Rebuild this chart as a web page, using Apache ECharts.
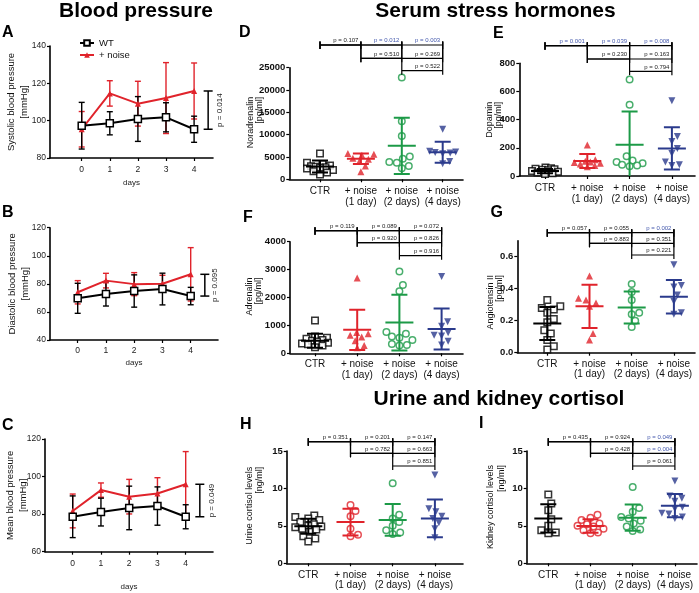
<!DOCTYPE html>
<html><head><meta charset="utf-8">
<script src="https://cdn.jsdelivr.net/npm/echarts@6/dist/echarts.min.js"></script>
<style>html,body{margin:0;padding:0;background:#fff}#c{width:699px;height:593px}</style>
</head><body><div id="c"></div>
<script>
// ================= DATA =================
const days = [0, 1, 2, 3, 4];
// A: systolic
const sysWtMean = [97.3, 98.6, 100.9, 101.8, 95.4];
const sysWtSd   = [12.5, 6.2, 12.0, 7.8, 7.0];
const sysNzMean = [95.4, 114.6, 109.1, 112.1, 115.9];
const sysNzSd   = [9.5, 6.8, 12.0, 19.0, 15.0];
const sysP = '0.014';
// B: diastolic
const diaWtMean = [69.7, 72.8, 74.9, 76.3, 71.3];
const diaWtSd   = [10.7, 8.6, 11.5, 11.3, 6.2];
const diaNzMean = [74.0, 82.3, 79.8, 80.1, 86.8];
const diaNzSd   = [8.3, 5.2, 8.2, 6.0, 19.0];
const diaP = '0.095';
// C: mean
const meanWtMean = [78.6, 81.1, 83.3, 84.3, 78.6];
const meanWtSd   = [11.1, 7.4, 11.6, 10.2, 6.4];
const meanNzMean = [81.7, 92.8, 89.3, 91.0, 95.9];
const meanNzSd   = [9.0, 3.8, 9.2, 8.4, 17.4];
const meanP = '0.049';

const groupLabels = ['CTR', '+ noise\n(1 day)', '+ noise\n(2 days)', '+ noise\n(4 days)'];
// comparisons order: CTR-1d, CTR-2d, CTR-4d, 1d-2d, 1d-4d, 2d-4d
// D: Noradrenalin
const norCtr = [5800, 3700, 3400, 3100, 2900, 2800, 2700, 2600, 2400, 2100, 1800, 1500, 1100];
const norD1 = [5800, 5600, 5400, 4700, 4500, 4000, 3000, 1700];
const norD2 = [22800, 13000, 9700, 5100, 4600, 3900, 3700, 3000, 2500];
const norD4 = [11200, 6300, 6100, 6000, 5900, 5700, 4000, 3500];
const norMean = [2850, 4600, 7500, 6050];
const norSd = [1350, 1200, 6300, 2350];
const norP = ['0.107', '0.012', '0.003', '0.510', '0.269', '0.522'];
// E: Dopamin
const dopCtr = [60, 55, 52, 48, 45, 40, 35, 30, 25, 20, 15];
const dopD1 = [220, 115, 105, 100, 95, 90, 85, 75, 65];
const dopD2 = [685, 505, 140, 110, 100, 90, 80, 75, 70];
const dopD4 = [535, 280, 245, 195, 160, 100, 80, 75];
const dopMean = [35, 106, 222, 196];
const dopSd = [15, 50, 236, 150];
const dopP = ['0.001', '0.039', '0.008', '0.230', '0.163', '0.794'];
// F: Adrenalin
const adrCtr = [1180, 600, 560, 520, 480, 450, 420, 380, 350, 320, 280, 220];
const adrD1 = [2700, 750, 700, 650, 580, 450, 280, 200];
const adrD2 = [2930, 2450, 2220, 760, 700, 600, 560, 480, 330, 300, 280];
const adrD4 = [2750, 1130, 970, 740, 650, 620, 430, 300];
const adrMean = [450, 840, 1100, 875];
const adrSd = [250, 720, 1000, 735];
const adrP = ['0.119', '0.089', '0.072', '0.920', '0.826', '0.916'];
// G: Angiotensin II
const angCtr = [0.33, 0.29, 0.28, 0.27, 0.25, 0.21, 0.19, 0.14, 0.12, 0.08, 0.04, 0.02];
const angD1 = [0.48, 0.34, 0.33, 0.31, 0.29, 0.12, 0.08];
const angD2 = [0.43, 0.38, 0.33, 0.25, 0.24, 0.20, 0.16];
const angD4 = [0.55, 0.42, 0.41, 0.36, 0.32, 0.25, 0.24];
const angMean = [0.183, 0.29, 0.283, 0.35];
const angSd = [0.103, 0.135, 0.1, 0.105];
const angP = ['0.057', '0.055', '0.002', '0.883', '0.351', '0.221'];
// H: Urine cortisol
const urCtr = [6.4, 6.2, 6.0, 5.8, 5.5, 5.2, 5.0, 4.9, 4.8, 4.6, 4.5, 4.2, 3.6, 3.3, 2.9];
const urD1 = [7.8, 7.0, 6.3, 4.6, 3.8, 3.6];
const urD2 = [10.7, 6.5, 6.0, 5.5, 5.0, 4.4, 4.1, 3.9];
const urD4 = [11.8, 7.3, 6.9, 6.3, 6.0, 5.4, 4.6, 3.4];
const urMean = [4.95, 5.5, 5.8, 6.0];
const urSd = [1.0, 1.8, 2.13, 2.53];
const urP = ['0.351', '0.201', '0.147', '0.782', '0.663', '0.851'];
// I: Kidney cortisol
const kiCtr = [9.2, 8.0, 7.1, 5.9, 5.0, 4.4, 4.1, 4.0];
const kiD1 = [6.5, 6.1, 5.8, 5.3, 5.2, 5.0, 4.9, 4.6, 4.4, 4.1, 4.0];
const kiD2 = [10.2, 7.4, 6.9, 6.2, 6.0, 5.7, 5.3, 4.9, 4.5, 4.3];
const kiD4 = [11.0, 9.0, 8.7, 8.3, 7.5, 7.3, 6.7, 6.6, 6.2, 6.0];
const kiMean = [6.0, 4.98, 6.1, 7.7];
const kiSd = [1.9, 0.9, 1.75, 1.55];
const kiP = ['0.435', '0.924', '0.049', '0.428', '0.004', '0.061'];
const comparisons = [[0, 1], [0, 2], [0, 3], [1, 2], [1, 3], [2, 3]];

// ================= LAYOUT / STYLE =================
const FONT = '"Liberation Sans", Arial, Helvetica, sans-serif';
const RED = '#e0232b', GREEN = '#1c9a47', BLUE = '#2a3a8c', PBLUE = '#4459ad', BLACK = '#000';
const groupColors = [BLACK, RED, GREEN, BLUE];

const linePanels = [
  {letter: 'A', lx: 8, ly: 33.5, left: 50, top: 46, width: 163, height: 112, x0: 81.7, sp: 28.1, ymin: 80, ymax: 140,
   name: 'Systolic blood pressure\n[mmHg]', nameGap: 19, lblMargin: 7, daysGap: 21,
   wtM: sysWtMean, wtS: sysWtSd, nzM: sysNzMean, nzS: sysNzSd, p: sysP, pDx: 12},
  {letter: 'B', lx: 8, ly: 213.5, left: 50, top: 227.7, width: 168, height: 112.3, x0: 77.7, sp: 28.25, ymin: 40, ymax: 120,
   name: 'Diastolic blood pressure\n[mmHg]', nameGap: 18, lblMargin: 6, daysGap: 19,
   wtM: diaWtMean, wtS: diaWtSd, nzM: diaNzMean, nzS: diaNzSd, p: diaP, pDx: 10},
  {letter: 'C', lx: 8, ly: 426.5, left: 45, top: 439, width: 168, height: 112.7, x0: 72.7, sp: 28.25, ymin: 60, ymax: 120,
   name: 'Mean blood pressure\n[mmHg]', nameGap: 15, lblMargin: 7, daysGap: 31,
   wtM: meanWtMean, wtS: meanWtSd, nzM: meanNzMean, nzS: meanNzSd, p: meanP, pDx: 11.5}
];

const dotPanels = [
  {letter: 'D', lx: 245, ly: 34, left: 289.3, top: 67.7, width: 173.7, height: 111.6, x0: 320, sp: 40.9, ymax: 25000,
   ticks: [0, 5000, 10000, 15000, 20000, 25000], dec: 0, rows: [45, 58.3, 70.7], name: 'Noradrenalin\n[pg/ml]', nx: 254.8, ny: 96.7, nameLH: 9.5,
   lblMargin: 7, d1Hollow: false, groups: [norCtr, norD1, norD2, norD4], mean: norMean, sd: norSd, p: norP},
  {letter: 'E', lx: 499, ly: 35, left: 519.3, top: 63.3, width: 175.7, height: 112.7, x0: 545, sp: 42.3, ymax: 800,
   ticks: [0, 200, 400, 600, 800], dec: 0, rows: [45.7, 59, 71.3], name: 'Dopamin\n[pg/ml]', nx: 494.5, ny: 101.7, nameLH: 9,
   lblMargin: 7, d1Hollow: false, groups: [dopCtr, dopD1, dopD2, dopD4], mean: dopMean, sd: dopSd, p: dopP},
  {letter: 'F', lx: 249, ly: 219, left: 290, top: 241.7, width: 173, height: 111.6, x0: 315, sp: 42.2, ymax: 4000,
   ticks: [0, 1000, 2000, 3000, 4000], dec: 0, rows: [230.7, 242.7, 255.7], name: 'Adrenalin\n[pg/ml]', nx: 254.5, ny: 277.5, nameLH: 9,
   lblMargin: 6, d1Hollow: false, groups: [adrCtr, adrD1, adrD2, adrD4], mean: adrMean, sd: adrSd, p: adrP},
  {letter: 'G', lx: 496.5, ly: 214, left: 517.3, top: 240.7, width: 177.7, height: 112, x0: 547.3, sp: 42.2, ymax: 0.7,
   ticks: [0, 0.2, 0.4, 0.6], dec: 1, rows: [232.7, 243.3, 255], name: 'Angiotensin II\n[pg/ml]', nx: 494.7, ny: 275, nameLH: 9.3,
   lblMargin: 6, d1Hollow: false, groups: [angCtr, angD1, angD2, angD4], mean: angMean, sd: angSd, p: angP},
  {letter: 'H', lx: 246, ly: 425.5, left: 286.7, top: 451, width: 176.3, height: 112.3, x0: 308.3, sp: 42.2, ymax: 15,
   ticks: [0, 5, 10, 15], dec: 0, rows: [441.7, 453.3, 466], name: 'Urine cortisol levels\n[ng/ml]', nx: 255, ny: 466.7, nameLH: 10,
   lblMargin: 6.5, d1Hollow: true, groups: [urCtr, urD1, urD2, urD4], mean: urMean, sd: urSd, p: urP},
  {letter: 'I', lx: 485, ly: 425, left: 526.7, top: 451, width: 170.3, height: 112.3, x0: 548.3, sp: 42.2, ymax: 15,
   ticks: [0, 5, 10, 15], dec: 0, rows: [441.7, 453.3, 466], name: 'Kidney cortisol levels\n[ng/ml]', nx: 496.2, ny: 465, nameLH: 11,
   lblMargin: 6.5, d1Hollow: true, groups: [kiCtr, kiD1, kiD2, kiD4], mean: kiMean, sd: kiSd, p: kiP}
];

// ================= BUILD =================
const chart = echarts.init(document.getElementById('c'), null, {renderer: 'canvas', width: 699, height: 593});
const grids = [], xAxes = [], yAxes = [], series = [];
const graphics = [];

function ln(x1, y1, x2, y2, color, w) {
  return {type: 'line', shape: {x1, y1, x2, y2}, style: {stroke: color, lineWidth: w}};
}

function errRenderer(color, cap, w) {
  return function (params, api) {
    const x = api.value(0), m = api.value(1), s = api.value(2);
    const t = api.coord([x, m + s]), b = api.coord([x, m - s]);
    return {type: 'group', children: [
      ln(t[0], t[1], b[0], b[1], color, w),
      ln(t[0] - cap, t[1], t[0] + cap, t[1], color, w),
      ln(b[0] - cap, b[1], b[0] + cap, b[1], color, w)
    ]};
  };
}

let gi = 0;
linePanels.forEach(L => {
  const idx = gi++;
  grids.push({left: L.left, top: L.top, width: L.width, height: L.height, containLabel: false, outerBoundsMode: 'none'});
  xAxes.push({gridIndex: idx, type: 'value', min: (L.left - L.x0) / L.sp, max: (L.left + L.width - L.x0) / L.sp,
    axisLine: {onZero: false, lineStyle: {color: BLACK, width: 1.6}},
    axisTick: {customValues: days, length: 3, lineStyle: {color: BLACK, width: 1.2}},
    axisLabel: {customValues: days, fontSize: 8.5, color: '#222', margin: L.lblMargin, fontFamily: FONT},
    splitLine: {show: false}, nameMoveOverlap: false,
    name: 'days', nameLocation: 'middle', nameGap: L.daysGap, nameTextStyle: {fontSize: 8, color: '#222', fontFamily: FONT}});
  yAxes.push({gridIndex: idx, type: 'value', min: L.ymin, max: L.ymax, interval: 20,
    axisLine: {show: true, onZero: false, lineStyle: {color: BLACK, width: 1.6}},
    axisTick: {show: true, length: 3, lineStyle: {color: BLACK, width: 1.2}},
    axisLabel: {fontSize: 8.5, color: '#222', margin: 4, fontFamily: FONT},
    splitLine: {show: false}, nameMoveOverlap: false,
    name: L.name, nameLocation: 'middle', nameRotate: 90, nameGap: L.nameGap,
    nameTextStyle: {fontSize: 9.5, lineHeight: 13, color: '#111', fontFamily: FONT, align: 'center'}});
  series.push({type: 'custom', xAxisIndex: idx, yAxisIndex: idx, z: 2, silent: true,
    data: days.map((d, k) => [d, L.nzM[k], L.nzS[k]]), encode: {x: 0, y: 1},
    renderItem: errRenderer(RED, 3, 1.4)});
  series.push({type: 'custom', xAxisIndex: idx, yAxisIndex: idx, z: 2, silent: true,
    data: days.map((d, k) => [d, L.wtM[k], L.wtS[k]]), encode: {x: 0, y: 1},
    renderItem: errRenderer(BLACK, 3, 1.4)});
  series.push({type: 'line', name: '+ noise', xAxisIndex: idx, yAxisIndex: idx, z: 3,
    data: days.map((d, k) => [d, L.nzM[k]]), symbol: 'triangle', symbolSize: 6,
    lineStyle: {color: RED, width: 2}, itemStyle: {color: RED}, animation: false});
  series.push({type: 'line', name: 'WT', xAxisIndex: idx, yAxisIndex: idx, z: 4,
    data: days.map((d, k) => [d, L.wtM[k]]), symbol: 'rect', symbolSize: 7,
    lineStyle: {color: BLACK, width: 2}, itemStyle: {color: '#fff', borderColor: BLACK, borderWidth: 1.5}, animation: false});
  series.push({type: 'custom', xAxisIndex: idx, yAxisIndex: idx, z: 5, silent: true, clip: false,
    data: [[4.5, L.wtM[4], L.nzM[4]]], encode: {x: 0, y: 1},
    renderItem: function (params, api) {
      const x = api.value(0);
      const a = api.coord([x, api.value(1)]), b = api.coord([x, api.value(2)]);
      return {type: 'group', children: [
        ln(a[0], a[1], b[0], b[1], BLACK, 1.5),
        ln(a[0] - 4.5, a[1], a[0] + 4.5, a[1], BLACK, 1.5),
        ln(b[0] - 4.5, b[1], b[0] + 4.5, b[1], BLACK, 1.5),
        {type: 'text', x: a[0] + L.pDx, y: (a[1] + b[1]) / 2, rotation: Math.PI / 2,
         style: {text: 'p = ' + L.p, fill: '#222', font: '8px ' + FONT, align: 'center', verticalAlign: 'middle'}}
      ]};
    }});
  graphics.push({type: 'text', left: L.lx - 6, top: L.ly - 9, style: {text: L.letter, font: 'bold 16px ' + FONT, fill: BLACK}});
});

// simple beeswarm: horizontal offsets (px) that keep symbols apart, limited to a band
function swarm(vals, pxPerY, diam, maxOff) {
  const order = vals.map((v, i) => i).sort((a, b) => vals[a] - vals[b]);
  const cands = [0];
  for (let k = 1; k <= maxOff * 2; k++) cands.push(k * 0.5, -k * 0.5);
  const placed = [], out = new Array(vals.length);
  for (const i of order) {
    const y = vals[i] * pxPerY;
    let best = null, bestC = 0, bestD = -1;
    for (const c of cands) {
      let d = Infinity;
      for (const p of placed) d = Math.min(d, Math.hypot(p.x - c, p.y - y));
      if (d >= diam) { best = c; break; }
      if (d > bestD + 0.3) { bestD = d; bestC = c; }
    }
    if (best === null) best = bestC;
    placed.push({x: best, y});
    out[i] = best;
  }
  return out;
}

dotPanels.forEach(P => {
  const idx = gi++;
  const xmin = (P.left - P.x0) / P.sp, xmax = (P.left + P.width - P.x0) / P.sp;
  grids.push({left: P.left, top: P.top, width: P.width, height: P.height, containLabel: false, outerBoundsMode: 'none'});
  xAxes.push({gridIndex: idx, type: 'value', min: xmin, max: xmax,
    axisLine: {onZero: false, lineStyle: {color: BLACK, width: 1.6}},
    axisTick: {customValues: [0, 1, 2, 3], length: 3, lineStyle: {color: BLACK, width: 1.2}},
    axisLabel: {customValues: [0, 1, 2, 3], formatter: v => groupLabels[Math.round(v)], fontSize: 10, lineHeight: 10.5,
      color: '#111', margin: P.lblMargin, fontFamily: FONT},
    splitLine: {show: false}});
  yAxes.push({gridIndex: idx, type: 'value', min: 0, max: P.ymax,
    axisLine: {show: true, onZero: false, lineStyle: {color: BLACK, width: 1.6}},
    axisTick: {show: true, customValues: P.ticks, length: 3, lineStyle: {color: BLACK, width: 1.2}},
    axisLabel: {customValues: P.ticks, formatter: v => v.toFixed(P.dec), fontSize: 9.5, fontWeight: 'bold', color: '#111', margin: 4, fontFamily: FONT},
    splitLine: {show: false}});
  // y-axis title (two lines, end-aligned at the top like the original)
  graphics.push({type: 'text', x: P.nx, y: P.ny, rotation: Math.PI / 2,
    style: {text: P.name, font: '9px ' + FONT, lineHeight: P.nameLH, fill: '#111', align: 'right', verticalAlign: 'middle'}});
  const pxPerY = P.height / P.ymax;
  P.groups.forEach((vals, g) => {
    const off = swarm(vals, pxPerY, 7.2, 13);
    const col = groupColors[g];
    let symbol, rot = 0, hollow;
    if (g === 0) { symbol = 'rect'; hollow = true; }
    else if (g === 1) { symbol = P.d1Hollow ? 'circle' : 'triangle'; hollow = P.d1Hollow; }
    else if (g === 2) { symbol = 'circle'; hollow = true; }
    else { symbol = 'triangle'; rot = 180; hollow = false; }
    series.push({type: 'scatter', xAxisIndex: idx, yAxisIndex: idx, z: 3, silent: true, animation: false,
      data: vals.map((v, k) => [g + off[k] / P.sp, v]),
      symbol, symbolRotate: rot, symbolSize: hollow ? 6.5 : 7,
      itemStyle: hollow ? {color: '#fff', borderColor: col, borderWidth: 1.5} : {color: col, borderWidth: 0}});
  });
  series.push({type: 'custom', xAxisIndex: idx, yAxisIndex: idx, z: 4, silent: true, clip: true,
    data: P.mean.map((m, g) => [g, m, P.sd[g], g]), encode: {x: 0, y: 1},
    renderItem: function (params, api) {
      const x = api.value(0), m = api.value(1), s = api.value(2), col = groupColors[api.value(3)];
      const c = api.coord([x, m]), t = api.coord([x, m + s]), b = api.coord([x, m - s]);
      return {type: 'group', children: [
        ln(c[0] - 14, c[1], c[0] + 14, c[1], col, 2),
        ln(t[0], t[1], b[0], b[1], col, 2),
        ln(t[0] - 8, t[1], t[0] + 8, t[1], col, 2),
        ln(b[0] - 8, b[1], b[0] + 8, b[1], col, 2)
      ]};
    }});
  series.push({type: 'custom', xAxisIndex: idx, yAxisIndex: idx, z: 5, silent: true, clip: false,
    data: comparisons.map((c, k) => [c[0], 0, c[1], k]), encode: {x: 0, y: 1},
    renderItem: function (params, api) {
      const i = api.value(0), j = api.value(2), k = api.value(3);
      const xi = api.coord([i, 0])[0], xj = api.coord([j, 0])[0];
      const ry = P.rows[i], top = P.rows[0] - 3.5, bot = ry + 4;
      const pv = P.p[k];
      const col = parseFloat(pv) < 0.05 ? PBLUE : '#222';
      return {type: 'group', children: [
        ln(xi, ry, xj, ry, BLACK, 1.2),
        ln(xi, top, xi, bot, BLACK, 1.2),
        ln(xj, top, xj, bot, BLACK, 1.2),
        {type: 'text', x: xj - 2.5, y: ry - 1.2,
         style: {text: 'p = ' + pv, fill: col, font: '6px ' + FONT, align: 'right', verticalAlign: 'bottom'}}
      ]};
    }});
  graphics.push({type: 'text', left: P.lx - 6, top: P.ly - 9, style: {text: P.letter, font: 'bold 16px ' + FONT, fill: BLACK}});
});

[['Blood pressure', 136, 11], ['Serum stress hormones', 495.5, 11], ['Urine and kidney cortisol', 499, 399]].forEach(t => {
  graphics.push({type: 'text', x: t[1], y: t[2], style: {text: t[0], font: 'bold 21px ' + FONT, fill: BLACK, align: 'center', verticalAlign: 'middle'}});
});

chart.setOption({
  animation: false,
  backgroundColor: '#fff',
  grid: grids,
  xAxis: xAxes,
  yAxis: yAxes,
  legend: {data: ['WT', '+ noise'], left: 74, top: 33, orient: 'vertical', itemWidth: 14, itemHeight: 7, itemGap: 2,
    selectedMode: false, textStyle: {fontSize: 9.5, color: '#111', fontFamily: FONT}},
  graphic: graphics,
  series: series
});
</script>
</body></html>
